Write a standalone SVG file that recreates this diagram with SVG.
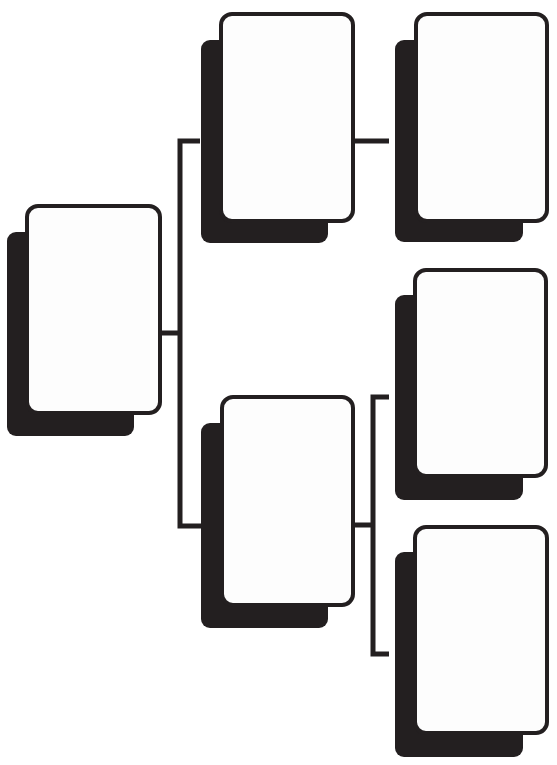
<svg xmlns="http://www.w3.org/2000/svg" width="557" height="765" viewBox="0 0 557 765">
<style>
.sh{fill:#231f20}
.fr{fill:#fdfdfd;stroke:#231f20;stroke-width:4}
.cn{fill:none;stroke:#231f20;stroke-width:5;stroke-linejoin:miter}
</style>
<rect width="557" height="765" fill="#ffffff"/>
<g id="connectors">
<path class="cn" d="M162,333 H180 M200,141 H180 V526 H201"/>
<path class="cn" d="M355,141 H389"/>
<path class="cn" d="M355,525 H373 M389,397 H373 V654 H389"/>
</g>
<g id="node1">
<rect class="sh" x="7" y="232" width="127" height="204" rx="9"/>
<rect class="fr" x="27" y="206" width="133" height="207" rx="11"/>
</g>
<g id="node2">
<rect class="sh" x="201" y="40" width="127" height="203" rx="9"/>
<rect class="fr" x="221" y="14" width="132" height="207" rx="11"/>
</g>
<g id="node3">
<rect class="sh" x="395" y="40" width="128" height="202" rx="9"/>
<rect class="fr" x="416" y="14" width="131" height="207" rx="11"/>
</g>
<g id="node4">
<rect class="sh" x="201" y="423" width="127" height="205" rx="9"/>
<rect class="fr" x="222" y="397" width="131" height="208" rx="11"/>
</g>
<g id="node5">
<rect class="sh" x="395" y="295" width="128" height="205" rx="9"/>
<rect class="fr" x="415" y="270" width="131" height="206" rx="11"/>
</g>
<g id="node6">
<rect class="sh" x="395" y="552" width="128" height="205" rx="9"/>
<rect class="fr" x="415" y="527" width="132" height="206" rx="11"/>
</g>
</svg>
